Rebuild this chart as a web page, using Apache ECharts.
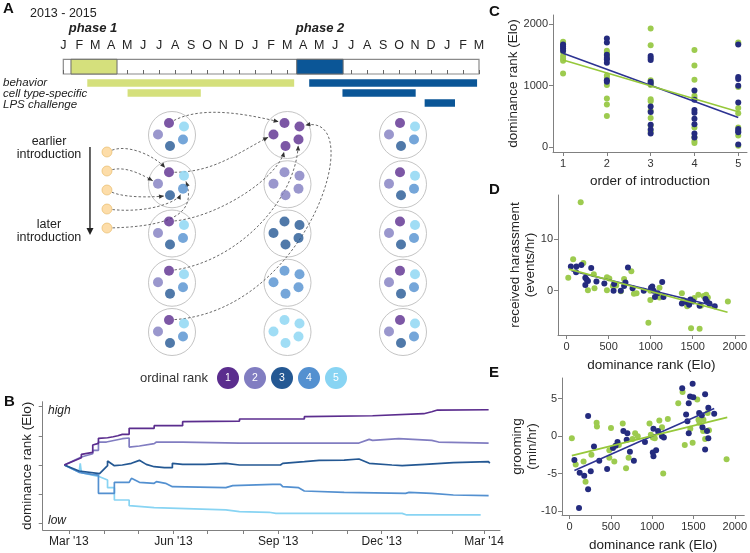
<!DOCTYPE html>
<html>
<head>
<meta charset="utf-8">
<script src="https://cdn.jsdelivr.net/npm/echarts@6/dist/echarts.min.js"></script>
<style>
  html, body { margin: 0; padding: 0; background: #fff; }
  #chart { width: 750px; height: 553px; }
</style>
</head>
<body>
<div id="chart"></div>
<script>
// ---- A: study timeline (months counted from Jan 2013) ----
const monthLetters = ['J','F','M','A','M','J','J','A','S','O','N','D','J','F','M','A','M','J','J','A','S','O','N','D','J','F','M'];
const phaseSpans = [[0.48, 3.36, 1], [14.6, 17.5, 2]];
const scheduleRows = ['behavior', 'cell type-specific', 'LPS challenge'];
// [start, end, row, phase]
const scheduleBars = [
  [1.5, 14.44, 0, 1], [15.38, 25.88, 0, 2],
  [4.02, 8.6, 1, 1], [17.46, 22.04, 1, 2],
  [22.6, 24.5, 2, 2]
];

// ---- A: group schematic ----
const rankNames = ['1', '2', '3', '4', '5'];
const rankColors = ['#5b2d8e', '#817dc1', '#245893', '#5390d0', '#88d4f3'];
const mixedSlotRanks = [1, 5, 2, 4, 3];   // slot order: top, top-right, left, right, bottom
const sortedRanks = [1, 2, 3, 4, 5];       // middle column: one rank per group
const groupCols = [1, 2, 3];
const groupRows = [1, 2, 3, 4, 5];
const introOrder = [1, 2, 3, 4, 5];

// ---- B: Elo trajectories, phase 1 ----
const bTickDates = ['2013-03-01', '2013-06-01', '2013-09-01', '2013-12-01', '2014-03-01'];
const bTickLabels = ["Mar '13", "Jun '13", "Sep '13", "Dec '13", "Mar '14"];
const eloRank1 = [['2013-02-25',1000],['2013-03-12',1125],['2013-03-12',1183],['2013-03-22',1217],['2013-03-22',1343],['2013-03-27',1372],['2013-03-27',1458],['2013-04-04',1468],['2013-04-09',1485],['2013-04-13',1502],['2013-04-17',1526],['2013-04-23',1526],['2013-04-23',1629],['2013-05-15',1629],['2013-05-15',1674],['2013-06-09',1674],['2013-06-09',1743],['2013-07-29',1754],['2013-07-29',1789],['2013-09-24',1789],['2013-09-24',1829],['2013-11-23',1845],['2013-11-23',1874],['2014-01-07',1880],['2014-01-14',1914],['2014-01-19',1943],['2014-03-05',1948]];
const eloRank2 = [['2013-02-25',1000],['2013-03-12',1137],['2013-03-22',1194],['2013-03-22',1251],['2013-03-27',1251],['2013-03-27',1394],['2013-04-03',1394],['2013-04-04',1423],['2013-04-17',1451],['2013-04-23',1463],['2013-04-23',1308],['2013-05-02',1326],['2013-05-02',1348],['2013-05-15',1366],['2013-05-17',1394],['2013-06-09',1394],['2013-06-09',1366],['2013-07-29',1377],['2013-09-24',1377],['2013-09-24',1354],['2013-09-25',1377],['2013-11-11',1377],['2013-11-20',1440],['2013-11-23',1423],['2013-12-16',1451],['2014-01-14',1423],['2014-01-20',1394],['2014-03-05',1377]];
const eloRank3 = [['2013-02-25',1000],['2013-03-10',897],['2013-03-28',851],['2013-04-04',988],['2013-04-04',1069],['2013-04-10',988],['2013-04-17',1000],['2013-04-25',1029],['2013-05-02',1080],['2013-05-08',1011],['2013-05-15',971],['2013-05-24',954],['2013-05-31',954],['2013-05-31',1029],['2013-06-09',1011],['2013-06-29',1011],['2013-07-17',1029],['2013-07-29',1000],['2013-09-03',1000],['2013-09-05',1029],['2013-09-24',1057],['2013-10-07',1080],['2013-10-29',1085],['2013-10-30',1114],['2013-11-11',1103],['2013-11-20',1029],['2013-12-10',1000],['2013-12-19',988],['2014-01-08',1011],['2014-02-02',1040],['2014-03-05',1057],['2014-03-06',1029]];
const eloRank4 = [['2013-02-25',1000],['2013-03-10',874],['2013-03-21',840],['2013-03-27',828],['2013-03-27',514],['2013-04-10',514],['2013-04-10',703],['2013-04-23',703],['2013-04-25',771],['2013-05-02',703],['2013-05-15',686],['2013-05-17',714],['2013-05-25',686],['2013-05-31',628],['2013-07-17',611],['2013-07-23',646],['2013-08-27',669],['2013-09-03',669],['2013-09-05',628],['2013-09-19',611],['2013-09-24',554],['2013-10-29',531],['2013-10-30',514],['2013-12-22',514],['2013-12-25',531],['2014-01-14',514],['2014-02-02',485],['2014-03-05',474]];
const eloRank5 = [['2013-02-25',1000],['2013-03-10',880],['2013-03-11',1030],['2013-03-12',870],['2013-03-28',800],['2013-04-04',743],['2013-04-04',611],['2013-04-10',611],['2013-04-10',400],['2013-04-23',400],['2013-04-23',303],['2013-05-15',269],['2013-07-17',229],['2013-07-29',200],['2013-08-24',189],['2013-08-30',171],['2013-12-19',171],['2013-12-23',143],['2014-02-26',143]];
const eloByRank = [eloRank1, eloRank2, eloRank3, eloRank4, eloRank5];

// ---- C: rank vs order of introduction (navy = phase 1, green = phase 2) ----
const cNavy = [[1,1669],[1,1636],[1,1603],[1,1570],[2,1768],[2,1702],[2,1504],[2,1449],[2,1427],[2,1373],[2,1087],[2,1065],[3,1482],[3,1449],[3,1416],[3,1065],[3,1032],[3,659],[3,571],[3,362],[3,285],[3,220],[4,922],[4,769],[4,604],[4,560],[4,461],[4,373],[4,220],[4,154],[5,1669],[5,1142],[5,1110],[5,1000],[5,725],[5,296],[5,263],[5,241],[5,44]];
const cGreen = [[1,1713],[1,1680],[1,1548],[1,1482],[1,1438],[1,1405],[1,1197],[2,1570],[2,1537],[2,1482],[2,1164],[2,1131],[2,1010],[2,791],[2,692],[2,505],[3,1932],[3,1658],[3,1087],[3,1043],[3,1010],[3,780],[3,747],[3,593],[3,472],[3,351],[3,252],[4,1581],[4,1329],[4,1098],[4,834],[4,801],[4,318],[4,165],[4,99],[4,66],[5,1702],[5,1680],[5,977],[5,637],[5,549],[5,318],[5,187],[5,22]];
const cNavyFit = [[1,1526],[5,483]];
const cGreenFit = [[1,1416],[5,576]];

// ---- D: received harassment vs Elo ----
const dNavy = [[51,4.7],[117,4.7],[113,3.6],[176,5.0],[223,2.5],[238,2.2],[254,1.9],[223,1.1],[293,4.4],[355,1.8],[449,1.4],[559,0],[565,1.3],[645,0],[684,0.9],[700,1.6],[730,4.5],[785,0.5],[918,0],[1004,0.6],[1019,0.8],[1035,0],[1051,-1.2],[1082,-0.5],[1137,1.7],[1152,-1.2],[1371,-2.5],[1426,-2.2],[1457,-2.7],[1473,-1.7],[1504,-2.1],[1582,-2.9],[1652,-1.6],[1668,-2.1],[1699,-2.5],[1762,-3.0]];
const dGreen = [[20,2.5],[78,6.1],[168,17.2],[199,5.4],[254,0.1],[324,3.2],[332,0.5],[480,2.6],[508,2.4],[480,0.1],[550,0.9],[590,1.0],[645,-0.1],[684,2.3],[770,3.8],[801,-0.6],[832,-0.5],[973,-6.2],[996,0],[996,-1.8],[1105,0.6],[1105,-1.3],[1371,-0.5],[1387,-1.8],[1434,-3.0],[1480,-7.3],[1520,-1.4],[1567,-0.8],[1582,-7.4],[1598,-2.9],[1629,-1.0],[1660,-0.8],[1680,-1.3],[1699,-2.7],[1918,-2.1]];
const dNavyFit = [[59,3.9],[1777,-3.0]];
const dGreenFit = [[27,4.2],[1914,-4.2]];

// ---- E: grooming vs Elo ----
const eNavy = [[59,-3.2],[115,-9.6],[123,-4.9],[178,-5.3],[225,-7.1],[225,2.7],[257,-4.7],[296,-1.4],[360,-3.3],[455,-4.4],[526,-1.6],[557,-1.3],[581,-0.8],[652,0.7],[692,-0.5],[700,0.4],[731,-2.1],[779,-3.3],[913,-0.8],[1008,-2.2],[1016,1.0],[1016,-2.7],[1048,-1.9],[1071,0.7],[1119,0],[1142,-0.2],[1364,6.4],[1411,2.9],[1427,2.0],[1443,4.4],[1443,0.4],[1459,5.3],[1490,7.0],[1498,5.2],[1569,3.1],[1601,2.8],[1609,1.2],[1641,5.6],[1641,-1.8],[1664,0.7],[1680,-0.3],[1680,3.8],[1751,3.0]];
const eGreen = [[28,-0.3],[75,-3.8],[170,-3.4],[194,-6.1],[265,-2.5],[328,1.8],[332,1.3],[482,-1.9],[482,-2.9],[502,1.1],[542,-3.4],[597,-1.2],[644,1.7],[684,-4.3],[715,-2.9],[763,-0.4],[794,0.4],[826,0],[968,1.7],[984,0.2],[1008,-0.2],[1032,-0.3],[1087,2.1],[1119,1.2],[1134,-5.0],[1190,2.3],[1316,4.4],[1368,5.9],[1395,-1.2],[1462,1.0],[1490,-0.9],[1546,4.9],[1561,2.2],[1573,1.8],[1617,0.7],[1621,2.2],[1641,-0.4],[1672,3.1],[1688,0.8],[1901,-3.1]];
const eNavyFit = [[59,-4.6],[1751,3.7]];
const eGreenFit = [[28,-2.6],[1909,2.5]];

const FONT = '"Liberation Sans", Arial, sans-serif';
const NAVY = '#242b7e', GREEN = '#9dcb4f';
const PHASE_FILL = ['#d5e07c', '#0b5697'];
const AXIS_GREY = '#808080';

function ts(s) {
  const p = s.split('-').map(Number);
  return new Date(p[0], p[1] - 1, p[2]).getTime();
}

// schematic grid: one unit per group column / group row
const unitX = 115.5, unitY = 49.25;
const slotOffsets = [[-3, -12], [12, -8.5], [-14, -0.5], [11, 4.5], [-2, 11]];
function slotPos(col, row, slot) {
  return [col + slotOffsets[slot][0] / unitX, row + slotOffsets[slot][1] / unitY];
}
function slotRank(col, row, slot) {
  return col === 2 ? sortedRanks[row - 1] : mixedSlotRanks[slot];
}
function newcomerPos(i) {
  return [0.437, 1.345 + i * 0.386];
}

const groupData = [];
const memberData = [];
groupCols.forEach(col => {
  groupRows.forEach(row => {
    groupData.push([col, row]);
    slotOffsets.forEach((o, slot) => {
      const r = slotRank(col, row, slot);
      memberData.push({ value: slotPos(col, row, slot), itemStyle: { color: rankColors[r - 1] } });
    });
  });
});
const newcomerData = introOrder.map((n, i) => newcomerPos(i));

// B month ticks (time as ms on a value axis)
const monthTicks = [];
for (let m = 2; m <= 14; m++) monthTicks.push(new Date(2013, m, 1).getTime());
const bTickTs = bTickDates.map(ts);

function sciAxisX(gridIndex, min, max, ticks, name, gap) {
  return {
    type: 'value', gridIndex, min, max,
    axisLine: { show: true, onZero: false, lineStyle: { color: AXIS_GREY, width: 1 } },
    axisTick: { show: true, customValues: ticks, length: 4, lineStyle: { color: AXIS_GREY } },
    axisLabel: { customValues: ticks, formatter: v => String(v), fontSize: 11, color: '#333', fontFamily: FONT, margin: 6 },
    splitLine: { show: false },
    name, nameLocation: 'middle', nameGap: gap,
    nameTextStyle: { fontSize: 13.5, color: '#222', fontFamily: FONT }
  };
}
function sciAxisY(gridIndex, min, max, ticks, name, gap) {
  return {
    type: 'value', gridIndex, min, max,
    axisLine: { show: true, onZero: false, lineStyle: { color: AXIS_GREY, width: 1 } },
    axisTick: { show: true, customValues: ticks, length: 4, lineStyle: { color: AXIS_GREY } },
    axisLabel: { customValues: ticks, formatter: v => String(v), fontSize: 11, color: '#333', fontFamily: FONT, margin: 5 },
    splitLine: { show: false },
    name, nameLocation: 'middle', nameGap: gap, nameMoveOverlap: false,
    nameTextStyle: { fontSize: 13.5, color: '#222', fontFamily: FONT, lineHeight: 15 }
  };
}
function scatterSeries(idx, data, color) {
  return { type: 'scatter', xAxisIndex: idx, yAxisIndex: idx, data, symbolSize: 6,
           itemStyle: { color, opacity: 1 }, z: 3 };
}
function fitSeries(idx, data, color) {
  return { type: 'line', xAxisIndex: idx, yAxisIndex: idx, data, showSymbol: false,
           lineStyle: { color, width: 1.6 }, z: 4 };
}

const chart = echarts.init(document.getElementById('chart'));

chart.setOption({
  animation: false,
  backgroundColor: '#fff',
  textStyle: { fontFamily: FONT },
  grid: [
    { left: 63.3, top: 59.3, width: 415.7, height: 14.7, show: true, borderColor: '#8a8a8a', borderWidth: 1.2, backgroundColor: '#fff' },
    { left: 63.3, top: 78, width: 415.7, height: 30 },
    { left: 56.5, top: 85.75, width: 462, height: 295.5 },
    { left: 42.7, top: 401.7, right: 250, bottom: 23 },
    { left: 553, top: 15, right: 3, bottom: 401 },
    { left: 558, top: 195, right: 2, bottom: 218 },
    { left: 562, top: 378, right: 2, bottom: 36 }
  ],
  xAxis: [
    { type: 'value', gridIndex: 0, min: 0, max: 26, interval: 1, position: 'top',
      axisLine: { show: false },
      axisTick: { show: true, length: 4, lineStyle: { color: '#666' } },
      axisLabel: { formatter: v => monthLetters[v] || '', fontSize: 12.5, color: '#222', margin: 7 },
      splitLine: { show: false } },
    { type: 'value', gridIndex: 1, min: 0, max: 26, show: false },
    { type: 'value', gridIndex: 2, min: 0, max: 4, show: false },
    { type: 'value', gridIndex: 3, min: ts('2013-02-06'), max: ts('2014-03-15'),
      axisLine: { show: true, onZero: false, lineStyle: { color: AXIS_GREY } },
      axisTick: { show: true, customValues: monthTicks, length: 4, lineStyle: { color: AXIS_GREY } },
      axisLabel: { customValues: bTickTs, fontSize: 12, color: '#222', margin: 6,
                   formatter: v => { const i = bTickTs.indexOf(v); return i >= 0 ? bTickLabels[i] : ''; } },
      splitLine: { show: false } },
    sciAxisX(4, 0.77, 5.2, [1, 2, 3, 4, 5], 'order of introduction', 22),
    sciAxisX(5, -102, 2120, [0, 500, 1000, 1500, 2000], 'dominance rank (Elo)', 23),
    sciAxisX(6, -91, 2115, [0, 500, 1000, 1500, 2000], 'dominance rank (Elo)', 23)
  ],
  yAxis: [
    { type: 'value', gridIndex: 0, min: 0, max: 1, show: false },
    { type: 'value', gridIndex: 1, min: -0.5, max: 2.5, inverse: true, show: false },
    { type: 'value', gridIndex: 2, min: 0, max: 6, inverse: true, show: false },
    { type: 'value', gridIndex: 3, min: -115, max: 2086,
      axisLine: { show: true, onZero: false, lineStyle: { color: AXIS_GREY } },
      axisTick: { show: true, customValues: [0, 500, 1000, 1500, 2000], length: 4, lineStyle: { color: AXIS_GREY } },
      axisLabel: { show: false }, splitLine: { show: false },
      name: 'dominance rank (Elo)', nameLocation: 'middle', nameGap: 8,
      nameTextStyle: { fontSize: 13.5, color: '#222' } },
    sciAxisY(4, -80, 2150, [0, 1000, 2000], 'dominance rank (Elo)', 32),
    sciAxisY(5, -8.6, 18.6, [0, 10], 'received harassment\n(events/hr)', 20),
    sciAxisY(6, -10.53, 7.76, [-10, -5, 0, 5], 'grooming\n(min/hr)', 22)
  ],
  series: [
    { type: 'custom', xAxisIndex: 0, yAxisIndex: 0, data: phaseSpans, z: 1,
      renderItem: (params, api) => {
        const p0 = api.coord([api.value(0), 1]);
        const p1 = api.coord([api.value(1), 0]);
        return { type: 'rect', shape: { x: p0[0], y: p0[1], width: p1[0] - p0[0], height: p1[1] - p0[1] },
                 style: { fill: PHASE_FILL[api.value(2) - 1], stroke: '#6a6a6a', lineWidth: 1 } };
      } },
    { type: 'custom', xAxisIndex: 1, yAxisIndex: 1, data: scheduleBars,
      renderItem: (params, api) => {
        const p0 = api.coord([api.value(0), api.value(2)]);
        const p1 = api.coord([api.value(1), api.value(2)]);
        const h = 7.5;
        return { type: 'rect', shape: { x: p0[0], y: p0[1] - h / 2, width: p1[0] - p0[0], height: h },
                 style: { fill: PHASE_FILL[api.value(3) - 1] } };
      } },
    { type: 'scatter', xAxisIndex: 2, yAxisIndex: 2, data: groupData, symbolSize: 47, z: 2,
      itemStyle: { color: '#fff', borderColor: '#b5b5b5', borderWidth: 1 } },
    { type: 'scatter', xAxisIndex: 2, yAxisIndex: 2, data: memberData, symbolSize: 10, z: 5 },
    { type: 'scatter', xAxisIndex: 2, yAxisIndex: 2, data: newcomerData, symbolSize: 10, z: 5,
      itemStyle: { color: '#fcd593', borderColor: '#e6b865', borderWidth: 0.8 } },
    ...eloByRank.map((d, i) => ({
      type: 'line', xAxisIndex: 3, yAxisIndex: 3, data: d.map(p => [ts(p[0]), p[1]]), showSymbol: false,
      lineStyle: { color: rankColors[i], width: 1.7 }, z: 10 - i
    })),
    scatterSeries(4, cGreen, GREEN), scatterSeries(4, cNavy, NAVY),
    fitSeries(4, cNavyFit, '#2d3392'), fitSeries(4, cGreenFit, '#96c83a'),
    scatterSeries(5, dGreen, GREEN), scatterSeries(5, dNavy, NAVY),
    fitSeries(5, dNavyFit, '#2d3392'), fitSeries(5, dGreenFit, '#96c83a'),
    scatterSeries(6, eGreen, GREEN), scatterSeries(6, eNavy, NAVY),
    fitSeries(6, eNavyFit, '#2d3392'), fitSeries(6, eGreenFit, '#96c83a')
  ]
});

// ---- annotations: texts, legend and migration arrows ----
function toPx(pt) { return chart.convertToPixel({ gridIndex: 2 }, pt); }
function txt(text, x, y, opts) {
  return { type: 'text', x, y, silent: true,
    style: Object.assign({ text, fill: '#222', font: '12.5px ' + FONT, textAlign: 'left', textVerticalAlign: 'middle' }, opts || {}) };
}

const graphics = [];
// panel letters
[['A', 3, 9], ['B', 4, 402], ['C', 489, 12], ['D', 489, 190], ['E', 489, 373]].forEach(([t, x, y]) => {
  graphics.push(txt(t, x, y, { font: 'bold 15px "Liberation Sans Narrow", ' + FONT, fill: '#111' }));
});
graphics.push(txt('2013 - 2015', 30, 14, { font: '12.5px ' + FONT }));
graphics.push(txt('phase 1', 93, 28, { font: 'italic bold 13px ' + FONT, textAlign: 'center' }));
graphics.push(txt('phase 2', 320, 28, { font: 'italic bold 13px ' + FONT, textAlign: 'center' }));
scheduleRows.forEach((r, i) => {
  graphics.push(txt(r, 3, 82.5 + i * 11.2, { font: 'italic 11.5px ' + FONT }));
});
graphics.push(txt('earlier', 49, 142, { textAlign: 'center' }));
graphics.push(txt('introduction', 49, 155, { textAlign: 'center' }));
graphics.push(txt('later', 49, 225, { textAlign: 'center' }));
graphics.push(txt('introduction', 49, 238, { textAlign: 'center' }));
graphics.push(txt('high', 48, 411, { font: 'italic 12px ' + FONT }));
graphics.push(txt('low', 48, 521, { font: 'italic 12px ' + FONT }));

// ordinal rank legend
graphics.push(txt('ordinal rank', 140, 378, { font: '13px ' + FONT, fill: '#333' }));
rankNames.forEach((n, i) => {
  const cx = 228 + i * 27;
  graphics.push({ type: 'circle', shape: { cx, cy: 378, r: 11 }, style: { fill: rankColors[i] }, silent: true });
  graphics.push(txt(n, cx, 378, { font: '10.5px ' + FONT, fill: '#fff', textAlign: 'center' }));
});

// vertical "introduction order" arrow
const nTop = toPx(newcomerPos(0)), nBot = toPx(newcomerPos(introOrder.length - 1));
const ax = nTop[0] - 17;
graphics.push({ type: 'line', shape: { x1: ax, y1: nTop[1] - 5, x2: ax, y2: nBot[1] }, style: { stroke: '#222', lineWidth: 1.4 }, silent: true });
graphics.push({ type: 'polygon', shape: { points: [[ax - 3.5, nBot[1]], [ax + 3.5, nBot[1]], [ax, nBot[1] + 7]] }, style: { fill: '#222' }, silent: true });

// dashed migration arrows: [from, to, control offset at start, control offset at end]
const arrowSpecs = [
  [['n', 0], ['g', 1, 2, 0], [22, -8], [-14, -16]],
  [['n', 1], ['g', 1, 2, 2], [20, -5], [-14, -8]],
  [['n', 2], ['g', 1, 2, 4], [18, 8], [-16, 2]],
  [['n', 3], ['g', 1, 2, 3], [40, 4], [-6, 14]],
  [['n', 4], ['g', 1, 2, 1], [70, -2], [12, 35]],
  [['g', 1, 1, 0], ['g', 2, 1, 0], [35, -18], [-35, -8]],
  [['g', 1, 2, 0], ['g', 2, 1, 2], [45, 0], [-35, 18]],
  [['g', 1, 3, 0], ['g', 2, 1, 4], [50, -5], [-8, 32]],
  [['g', 1, 4, 0], ['g', 2, 1, 3], [70, -10], [-3, 60]],
  [['g', 1, 5, 0], ['g', 2, 1, 1], [140, -10], [70, -15]]
];
function endPx(e) {
  return e[0] === 'n' ? toPx(newcomerPos(e[1])) : toPx(slotPos(e[1], e[2], e[3]));
}
function trim(p, toward, d) {
  const dx = toward[0] - p[0], dy = toward[1] - p[1];
  const l = Math.hypot(dx, dy) || 1;
  return [p[0] + dx / l * d, p[1] + dy / l * d];
}
arrowSpecs.forEach(([from, to, o1, o2]) => {
  const a0 = endPx(from), b0 = endPx(to);
  const c1 = [a0[0] + o1[0], a0[1] + o1[1]];
  const c2 = [b0[0] + o2[0], b0[1] + o2[1]];
  const a = trim(a0, c1, 5.5), b = trim(b0, c2, 6);
  graphics.push({ type: 'bezierCurve', silent: true, z: 3,
    shape: { x1: a[0], y1: a[1], x2: b[0], y2: b[1], cpx1: c1[0], cpy1: c1[1], cpx2: c2[0], cpy2: c2[1] },
    style: { stroke: '#444', lineWidth: 0.8, lineDash: [2.5, 2], fill: null } });
  const dx = b[0] - c2[0], dy = b[1] - c2[1];
  const l = Math.hypot(dx, dy) || 1, ux = dx / l, uy = dy / l;
  const bx = b[0] - ux * 5, by = b[1] - uy * 5;
  graphics.push({ type: 'polygon', silent: true, z: 3,
    shape: { points: [[b[0], b[1]], [bx - uy * 2.2, by + ux * 2.2], [bx + uy * 2.2, by - ux * 2.2]] },
    style: { fill: '#333' } });
});

chart.setOption({ graphic: graphics });
</script>
</body>
</html>
